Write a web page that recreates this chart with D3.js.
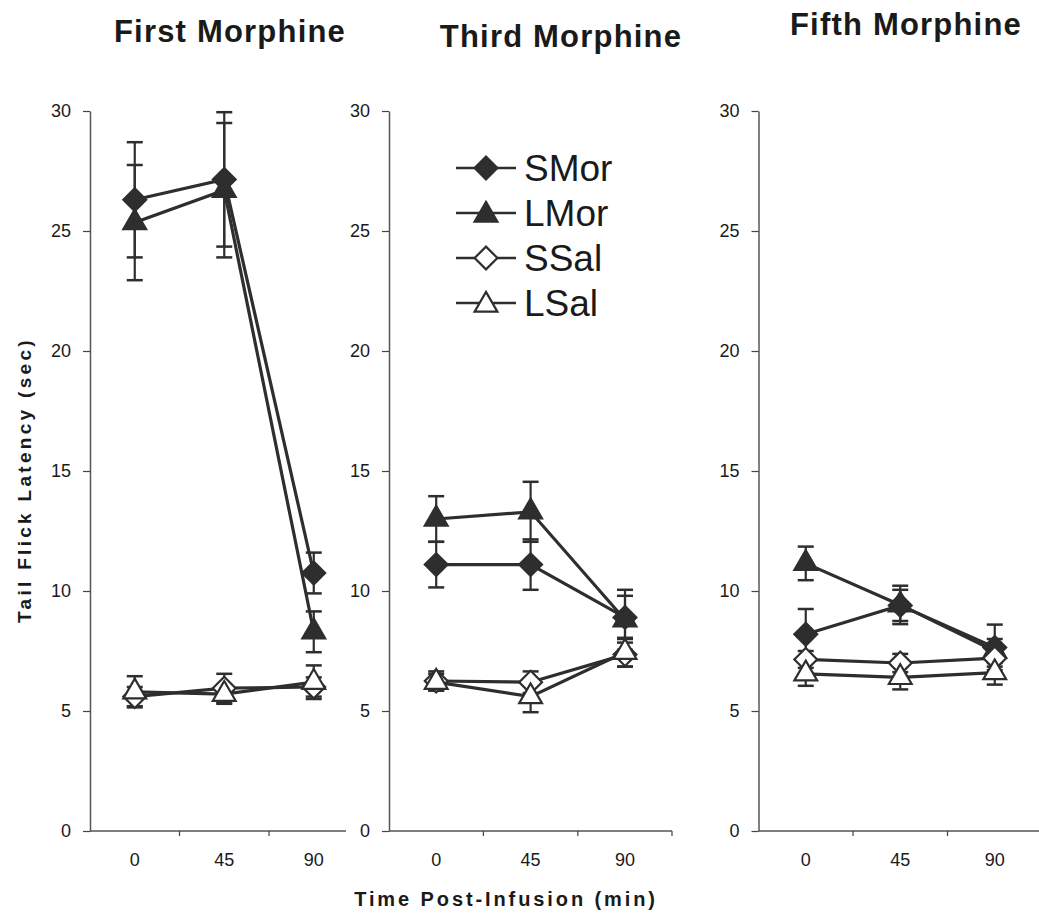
<!DOCTYPE html>
<meta charset="utf-8">
<html>
<head>
    <script src="https://cdn.jsdelivr.net/npm/d3@7"></script>
    <style>
        body { margin: 0; background: #fff; }
        text { font-family: "Liberation Sans", Arial, sans-serif; fill: #1a1a1a; }
    </style>
</head>
<body>
    <script>
    // categories and labels
    var times = ["0", "45", "90"];
    var panelTitles = ["First Morphine", "Third Morphine", "Fifth Morphine"];
    var yTicks = [0, 5, 10, 15, 20, 25, 30];
    var groups = ["SMor", "LMor", "SSal", "LSal"];

    // means, one row per panel (first, third, fifth), one value per time
    var sMorMean = [[26.3, 27.15, 10.75], [11.1, 11.1, 8.9], [8.2, 9.4, 7.65]];
    var lMorMean = [[25.35, 26.7, 8.3], [13.0, 13.3, 8.8], [11.15, 9.42, 7.5]];
    var sSalMean = [[5.6, 5.95, 6.0], [6.25, 6.2, 7.35], [7.15, 7.0, 7.2]];
    var lSalMean = [[5.8, 5.7, 6.2], [6.2, 5.6, 7.45], [6.55, 6.4, 6.6]];

    // standard errors
    var sMorErr = [[2.4, 2.8, 0.85], [0.95, 1.05, 0.9], [1.05, 0.65, 0.95]];
    var lMorErr = [[2.4, 2.8, 0.85], [0.95, 1.25, 1.25], [0.7, 0.8, 0.5]];
    var sSalErr = [[0.4, 0.6, 0.4], [0.4, 0.45, 0.5], [0.35, 0.38, 0.35]];
    var lSalErr = [[0.65, 0.4, 0.7], [0.35, 0.65, 0.6], [0.5, 0.5, 0.5]];

    var means = [sMorMean, lMorMean, sSalMean, lSalMean];
    var errs = [sMorErr, lMorErr, sSalErr, lSalErr];

    var ink = "#2e2e2e";
    var width = 1039, height = 920;

    var svg = d3.select("body")
        .append("svg")
        .attr("width", width)
        .attr("height", height);

    // panel layout: y axis x, band width, end of x axis line, end tick, title pos
    var panels = [
        { x0: 90,    bw: 89.5, end: 346,  endTick: false, tx: 230, ty: 42 },
        { x0: 389,   bw: 94.4, end: 672,  endTick: true,  tx: 561, ty: 47 },
        { x0: 758.5, bw: 94.5, end: 1039, endTick: false, tx: 906, ty: 35 }
    ];

    var yScale = d3.scaleLinear()
        .domain([0, 30])
        .range([831, 111]);

    var diamond = d3.symbol().type(d3.symbolSquare).size(260);
    var triangle = d3.symbol().type(d3.symbolTriangle).size(225);

    function drawMarker(g, gi, x, y) {
        var filled = gi < 2;
        var isDiamond = gi % 2 === 0;
        g.append("path")
            .attr("d", isDiamond ? diamond() : triangle())
            .attr("transform", "translate(" + x + "," + y + ")" + (isDiamond ? " rotate(45)" : ""))
            .attr("fill", filled ? ink : "#fff")
            .attr("stroke", ink)
            .attr("stroke-width", 2.2);
    }

    panels.forEach(function(p, pi) {
        var g = svg.append("g");

        var xScale = d3.scaleBand()
            .domain(times)
            .range([p.x0, p.x0 + 3 * p.bw]);

        // y axis
        var yAxis = g.append("g")
            .attr("transform", "translate(" + p.x0 + ",0)")
            .call(d3.axisLeft(yScale).tickValues(yTicks).tickSize(7).tickPadding(12).tickSizeOuter(0));
        yAxis.select(".domain").attr("stroke", "#555").attr("stroke-width", 1.5);
        yAxis.selectAll(".tick line").attr("stroke", "#444").attr("stroke-width", 1.2);
        yAxis.selectAll(".tick text")
            .attr("font-size", 18)
            .attr("font-family", "Liberation Sans, Arial, sans-serif")
            .attr("fill", "#1a1a1a");

        // x axis labels
        var xAxis = g.append("g")
            .attr("transform", "translate(0," + yScale(0) + ")")
            .call(d3.axisBottom(xScale).tickSize(0).tickPadding(22));
        xAxis.select(".domain").remove();
        xAxis.selectAll(".tick text")
            .attr("font-size", 18)
            .attr("font-family", "Liberation Sans, Arial, sans-serif")
            .attr("fill", "#1a1a1a");

        // x axis line and ticks between categories
        g.append("line")
            .attr("x1", p.x0).attr("x2", p.end)
            .attr("y1", yScale(0)).attr("y2", yScale(0))
            .attr("stroke", "#555").attr("stroke-width", 1.5);
        var bounds = times.slice(1).map(function(t) { return xScale(t); });
        if (p.endTick) bounds.push(p.end);
        g.selectAll(".xtick")
            .data(bounds)
            .enter()
            .append("line")
            .attr("x1", function(d) { return d; })
            .attr("x2", function(d) { return d; })
            .attr("y1", yScale(0))
            .attr("y2", yScale(0) + 5)
            .attr("stroke", "#444").attr("stroke-width", 1.2);

        // title
        g.append("text")
            .attr("x", p.tx)
            .attr("y", p.ty)
            .attr("text-anchor", "middle")
            .attr("font-size", 31)
            .attr("font-weight", "bold")
            .attr("letter-spacing", 1.2)
            .attr("fill", "#333")
            .text(panelTitles[pi]);

        function cx(i) { return xScale(times[i]) + xScale.bandwidth() / 2; }

        var line = d3.line()
            .x(function(d, i) { return cx(i); })
            .y(function(d) { return yScale(d); });

        groups.forEach(function(name, gi) {
            var m = means[gi][pi];
            var e = errs[gi][pi];

            // error bars
            m.forEach(function(v, i) {
                var x = cx(i);
                g.append("line")
                    .attr("x1", x).attr("x2", x)
                    .attr("y1", yScale(v + e[i])).attr("y2", yScale(v - e[i]))
                    .attr("stroke", ink).attr("stroke-width", 2.2);
                [v + e[i], v - e[i]].forEach(function(c) {
                    g.append("line")
                        .attr("x1", x - 8).attr("x2", x + 8)
                        .attr("y1", yScale(c)).attr("y2", yScale(c))
                        .attr("stroke", ink).attr("stroke-width", 2.5);
                });
            });

            g.append("path")
                .datum(m)
                .attr("d", line)
                .attr("fill", "none")
                .attr("stroke", ink)
                .attr("stroke-width", 3.2);
        });

        // markers on top
        groups.forEach(function(name, gi) {
            means[gi][pi].forEach(function(v, i) {
                drawMarker(g, gi, cx(i), yScale(v));
            });
        });
    });

    // legend
    var legend = svg.append("g");
    groups.forEach(function(name, gi) {
        var ly = 168 + gi * 45;
        legend.append("line")
            .attr("x1", 456).attr("x2", 516)
            .attr("y1", ly).attr("y2", ly)
            .attr("stroke", ink).attr("stroke-width", 2.5);
        drawMarker(legend, gi, 486, ly + (gi % 2 === 1 ? 2 : 0));
        legend.append("text")
            .attr("x", 524)
            .attr("y", ly + 13)
            .attr("font-size", 37)
            .attr("fill", "#222")
            .text(name);
    });

    // axis titles
    svg.append("text")
        .attr("transform", "translate(31,480) rotate(-90)")
        .attr("text-anchor", "middle")
        .attr("font-size", 19)
        .attr("font-weight", "bold")
        .attr("letter-spacing", 3.3)
        .attr("fill", "#333")
        .text("Tail Flick Latency (sec)");

    svg.append("text")
        .attr("x", 506)
        .attr("y", 906)
        .attr("text-anchor", "middle")
        .attr("font-size", 20)
        .attr("font-weight", "bold")
        .attr("letter-spacing", 2.9)
        .attr("fill", "#333")
        .text("Time Post-Infusion (min)");
    </script>
</body>
</html>
